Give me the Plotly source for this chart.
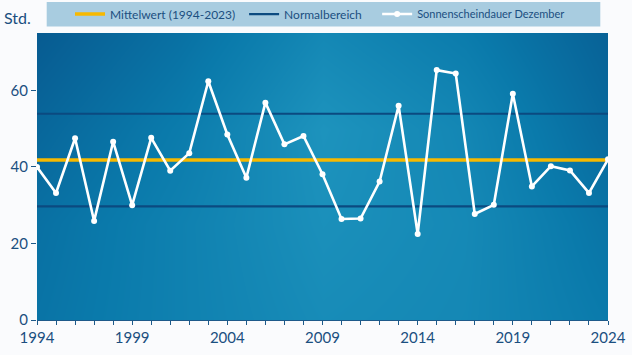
import plotly.graph_objects as go

# ---- data ----
years = list(range(1994, 2025))
sunshine = [40.0, 33.2, 47.5, 25.9, 46.6, 30.0, 47.6, 39.0, 43.6, 62.4,
            48.5, 37.2, 56.8, 45.9, 48.1, 38.1, 26.4, 26.5, 36.2, 56.0,
            22.5, 65.3, 64.4, 27.7, 30.1, 59.1, 34.9, 40.2, 39.1, 33.2, 42.0]
mean_value = 41.8
normal_low = 29.7
normal_high = 53.9
x_tick_years = [1994, 1999, 2004, 2009, 2014, 2019, 2024]
y_ticks = [0, 20, 40, 60]

# ---- background gradient (decorative) ----
bg_x = [1994, 2001.5, 2009, 2016.5, 2024]
bg_y = [0, 25, 50, 75]
bg_z = [
    [0.40, 0.58, 0.74, 0.68, 0.48],
    [0.36, 0.58, 0.80, 0.70, 0.40],
    [0.24, 0.50, 0.85, 0.66, 0.28],
    [0.10, 0.36, 0.68, 0.50, 0.18],
]
bg_colors = [[0.0, "#075b91"], [0.5, "#0a7aab"], [1.0, "#1d93bd"]]

TXT = "#1b4f80"
FONT = "Lato"

fig = go.Figure()

fig.add_trace(go.Heatmap(
    x=bg_x, y=bg_y, z=bg_z, colorscale=bg_colors, zsmooth="best",
    showscale=False, hoverinfo="skip", showlegend=False,
))

fig.add_trace(go.Scatter(
    x=[years[0], years[-1]], y=[mean_value, mean_value], mode="lines",
    line=dict(color="#f7b900", width=3.5), name="Mittelwert (1994-2023)",
    legend="legend",
))
fig.add_trace(go.Scatter(
    x=[years[0], years[-1], None, years[0], years[-1]],
    y=[normal_high, normal_high, None, normal_low, normal_low], mode="lines",
    line=dict(color="#0b4a80", width=2.2), name="Normalbereich",
    legend="legend2",
))
fig.add_trace(go.Scatter(
    x=years, y=sunshine, mode="lines+markers",
    line=dict(color="white", width=2.6),
    marker=dict(color="white", size=6),
    name="Sonnenscheindauer Dezember", legend="legend3",
))

# legend background box
fig.add_shape(type="rect", xref="paper", yref="paper",
              x0=0.017, x1=0.9865, y0=1.023, y1=1.108,
              fillcolor="#a8cce0", line=dict(width=0), layer="below")

fig.add_annotation(text="Std.", xref="paper", yref="paper", x=-0.035, y=1.053,
                   showarrow=False, font=dict(size=16, color=TXT, family=FONT),
                   xanchor="center", yanchor="middle")

leg_common = dict(orientation="h", y=1.066, xanchor="left", yanchor="middle",
                  bgcolor="rgba(0,0,0,0)", borderwidth=0, itemwidth=30)

fig.update_layout(
    width=632, height=355,
    margin=dict(l=37, r=24, t=33, b=35, autoexpand=False),
    paper_bgcolor="#fafbfd", plot_bgcolor="#0a6fa5",
    font=dict(family=FONT, color=TXT),
    showlegend=True,
    legend=dict(x=0.0578, font=dict(size=12, color=TXT, family=FONT), **leg_common),
    legend2=dict(x=0.3627, font=dict(size=12, color=TXT, family=FONT), **leg_common),
    legend3=dict(x=0.5957, font=dict(size=11, color=TXT, family=FONT), **leg_common),
    xaxis=dict(range=[1994, 2024], tickvals=years,
               ticktext=[str(y) if y in x_tick_years else "" for y in years],
               ticks="outside", ticklen=4, tickwidth=1.3, tickcolor="#1d5a8a",
               showgrid=False, zeroline=False, showline=True, linecolor="#1d5a8a",
               linewidth=1.3, tickfont=dict(size=15, color=TXT), fixedrange=True),
    yaxis=dict(range=[0, 75], tickvals=y_ticks, ticks="outside", ticklen=5,
               tickwidth=1.3, tickcolor="#1d5a8a", showgrid=False, zeroline=False,
               showline=False, tickfont=dict(size=15, color=TXT), fixedrange=True),
)

fig.write_html("out.html",
               config={"displayModeBar": False},
               post_script="document.body.style.margin='0';"
                           "document.body.style.background='#fafbfd';")
